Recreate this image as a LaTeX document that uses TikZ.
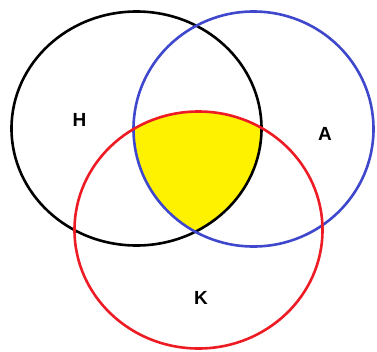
\documentclass[tikz,border=0pt]{standalone}
\usepackage{fontspec}
\setmainfont{Liberation Sans}
\usepackage{xcolor}
\usepackage{tikz}
\definecolor{vennblue}{HTML}{3F48CC}
\definecolor{vennred}{HTML}{ED1C24}
\definecolor{vennyellow}{HTML}{FFF200}

\begin{document}
\begin{tikzpicture}[x=1pt,y=-1pt]
\tikzset{setline/.style={line width=2.6pt},
         setlabel/.style={font=\bfseries\fontsize{19}{19}\selectfont,inner sep=0pt}}
\useasboundingbox (0,0) rectangle (377,351);
% centres and radii of the three sets
\def\hx{136.5}\def\hy{128.5}\def\hrx{125}\def\hry{117}
\def\ax{253.5}\def\ay{129}\def\arx{120}\def\ary{117.5}
\def\kx{198.5}\def\ky{230}\def\krx{124}\def\kry{118.5}
% H and A and K
\begin{scope}
  \clip (\hx,\hy) ellipse [x radius=\hrx, y radius=\hry];
  \clip (\ax,\ay) ellipse [x radius=\arx, y radius=\ary];
  \fill[vennyellow] (\kx,\ky) ellipse [x radius=\krx, y radius=\kry];
\end{scope}
% Set outlines
\draw[setline,black] (\hx,\hy) ellipse [x radius=\hrx, y radius=\hry];
\draw[setline,vennblue] (\ax,\ay) ellipse [x radius=\arx, y radius=\ary];
\draw[setline,vennred] (\kx,\ky) ellipse [x radius=\krx, y radius=\kry];
% Labels
\node[setlabel] (labH) at (79.5,119.5) {H};
\node[setlabel] (labA) at (325,134) {A};
\node[setlabel] (labK) at (201,297.5) {K};
\end{tikzpicture}
\end{document}
